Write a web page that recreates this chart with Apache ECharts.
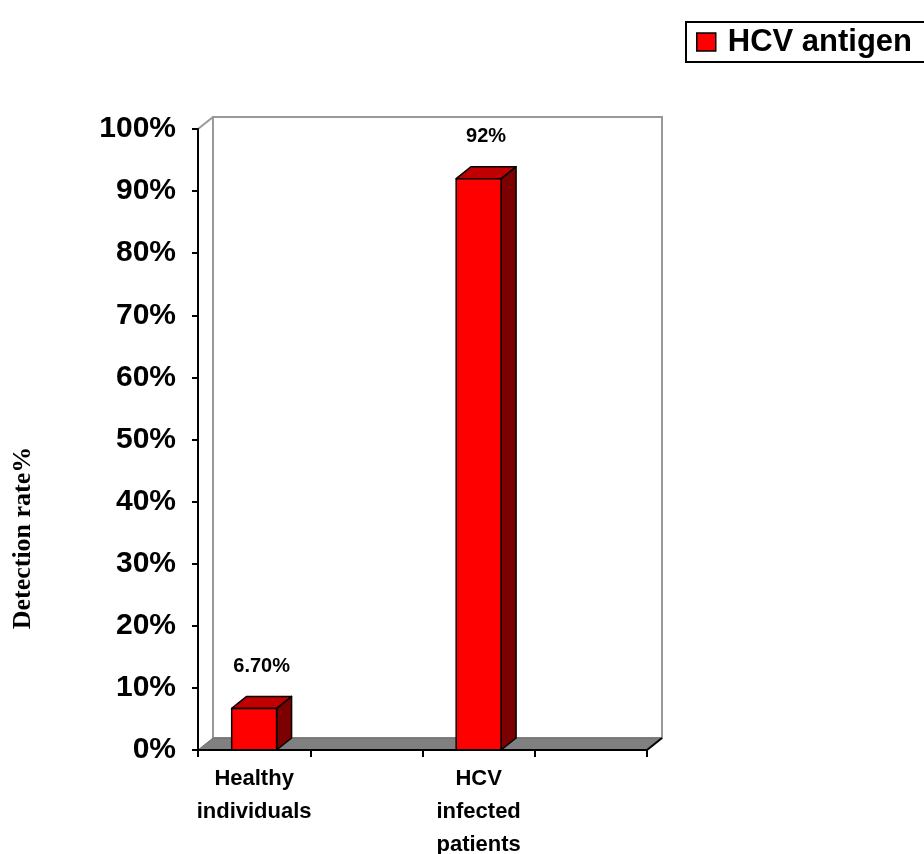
<!DOCTYPE html>
<html>
<head>
<meta charset="utf-8">
<script src="https://cdn.jsdelivr.net/npm/echarts@6/dist/echarts.min.js"></script>
<style>
  html, body { margin: 0; padding: 0; background: #fff; }
  #chart { width: 924px; height: 854px; }
</style>
</head>
<body>
<div id="chart"></div>
<script>
const categories = ['Healthy\nindividuals', '', 'HCV\ninfected\npatients', ''];
const detectionRate = [0.067, null, 0.92, null];
const valueLabels = ['6.70%', '', '92%', ''];
const yTicks = [0, 0.1, 0.2, 0.3, 0.4, 0.5, 0.6, 0.7, 0.8, 0.9, 1.0];

const FONT = '"Liberation Sans", Arial, sans-serif';
const DX = 15, DY = -12; // 3d depth offset

const barData = [];
detectionRate.forEach((v, i) => {
  if (v != null) barData.push([i, v, valueLabels[i]]);
});

const chart = echarts.init(document.getElementById('chart'));

const option = {
  animation: false,
  grid: { left: 198, top: 129, width: 449, height: 621, outerBoundsMode: 'none', containLabel: false },
  legend: {
    data: [{ name: 'HCV antigen', icon: 'rect' }],
    left: 686,
    top: 22,
    padding: [4, 30, 4, 10],
    borderColor: '#000',
    borderWidth: 2,
    itemWidth: 19,
    itemHeight: 18,
    selectedMode: false,
    itemStyle: { color: '#ff0000', borderColor: '#000', borderWidth: 1.5 },
    textStyle: {
      fontFamily: FONT, fontWeight: 'bold', fontSize: 31, color: '#000',
      padding: [0, 0, 0, 7], lineHeight: 32
    }
  },
  graphic: [{
    type: 'text',
    x: 23, y: 538,
    rotation: Math.PI / 2,
    style: {
      text: 'Detection rate%',
      fontFamily: '"Liberation Serif", "Times New Roman", serif',
      fontWeight: 'bold',
      fontSize: 26,
      fill: '#000',
      align: 'center',
      verticalAlign: 'middle'
    }
  }],
  xAxis: {
    type: 'category',
    data: categories,
    z: 5,
    axisLine: { lineStyle: { color: '#000', width: 2 } },
    axisTick: { show: true, interval: 0, length: 7, lineStyle: { color: '#000', width: 2 } },
    axisLabel: {
      interval: 0, margin: 12, color: '#000',
      fontFamily: FONT, fontWeight: 'bold', fontSize: 22, lineHeight: 33
    }
  },
  yAxis: {
    type: 'value',
    min: 0, max: 1, interval: 0.1,
    z: 5,
    axisLine: { show: true, lineStyle: { color: '#000', width: 2 } },
    axisTick: { show: true, length: 6, lineStyle: { color: '#000', width: 2 } },
    splitLine: { show: false },
    axisLabel: {
      margin: 22, color: '#000',
      fontFamily: FONT, fontWeight: 'bold', fontSize: 30,
      customValues: yTicks,
      formatter: v => Math.round(v * 100) + '%'
    }
  },
  series: [
    {
      name: 'frame',
      type: 'custom',
      z: 1,
      silent: true,
      data: [[0]],
      renderItem: (params) => {
        const cs = params.coordSys;
        const x = cs.x, y = cs.y, w = cs.width, h = cs.height;
        return {
          type: 'group',
          children: [
            { type: 'rect', shape: { x: x + DX, y: y + DY, width: w, height: h },
              style: { fill: '#fff', stroke: '#999', lineWidth: 2 } },
            { type: 'line', shape: { x1: x, y1: y, x2: x + DX, y2: y + DY },
              style: { stroke: '#999', lineWidth: 2 } },
            { type: 'polygon',
              shape: { points: [[x, y + h], [x + DX, y + h + DY], [x + w + DX, y + h + DY], [x + w, y + h]] },
              style: { fill: '#808080', stroke: '#6a6a6a', lineWidth: 1 } },
            { type: 'line', shape: { x1: x + w, y1: y + h, x2: x + w + DX, y2: y + h + DY },
              style: { stroke: '#000', lineWidth: 2 } }
          ]
        };
      }
    },
    {
      name: 'HCV antigen',
      type: 'custom',
      z: 3,
      itemStyle: { color: '#ff0000' },
      data: barData,
      renderItem: (params, api) => {
        const top = api.coord([api.value(0), api.value(1)]);
        const base = api.coord([api.value(0), 0]);
        const bw = api.size([1, 0])[0] * 0.4;
        const x0 = top[0] - bw / 2, x1 = top[0] + bw / 2;
        const yt = top[1], yb = base[1];
        const edge = { stroke: '#000', lineWidth: 1.5, lineJoin: 'round' };
        return {
          type: 'group',
          children: [
            { type: 'polygon',
              shape: { points: [[x1, yt], [x1 + DX, yt + DY], [x1 + DX, yb + DY], [x1, yb]] },
              style: Object.assign({ fill: '#7d0000' }, edge) },
            { type: 'polygon',
              shape: { points: [[x0, yt], [x0 + DX, yt + DY], [x1 + DX, yt + DY], [x1, yt]] },
              style: Object.assign({ fill: '#c00000' }, edge) },
            { type: 'rect', shape: { x: x0, y: yt, width: bw, height: yb - yt },
              style: Object.assign({ fill: '#ff0000' }, edge) },
            { type: 'text', x: top[0] + DX / 2, y: yt - 42,
              style: { text: api.value(2), fontFamily: FONT, fontWeight: 'bold', fontSize: 20,
                fill: '#000', align: 'center', verticalAlign: 'middle' } }
          ]
        };
      }
    }
  ]
};

chart.setOption(option);
</script>
</body>
</html>
